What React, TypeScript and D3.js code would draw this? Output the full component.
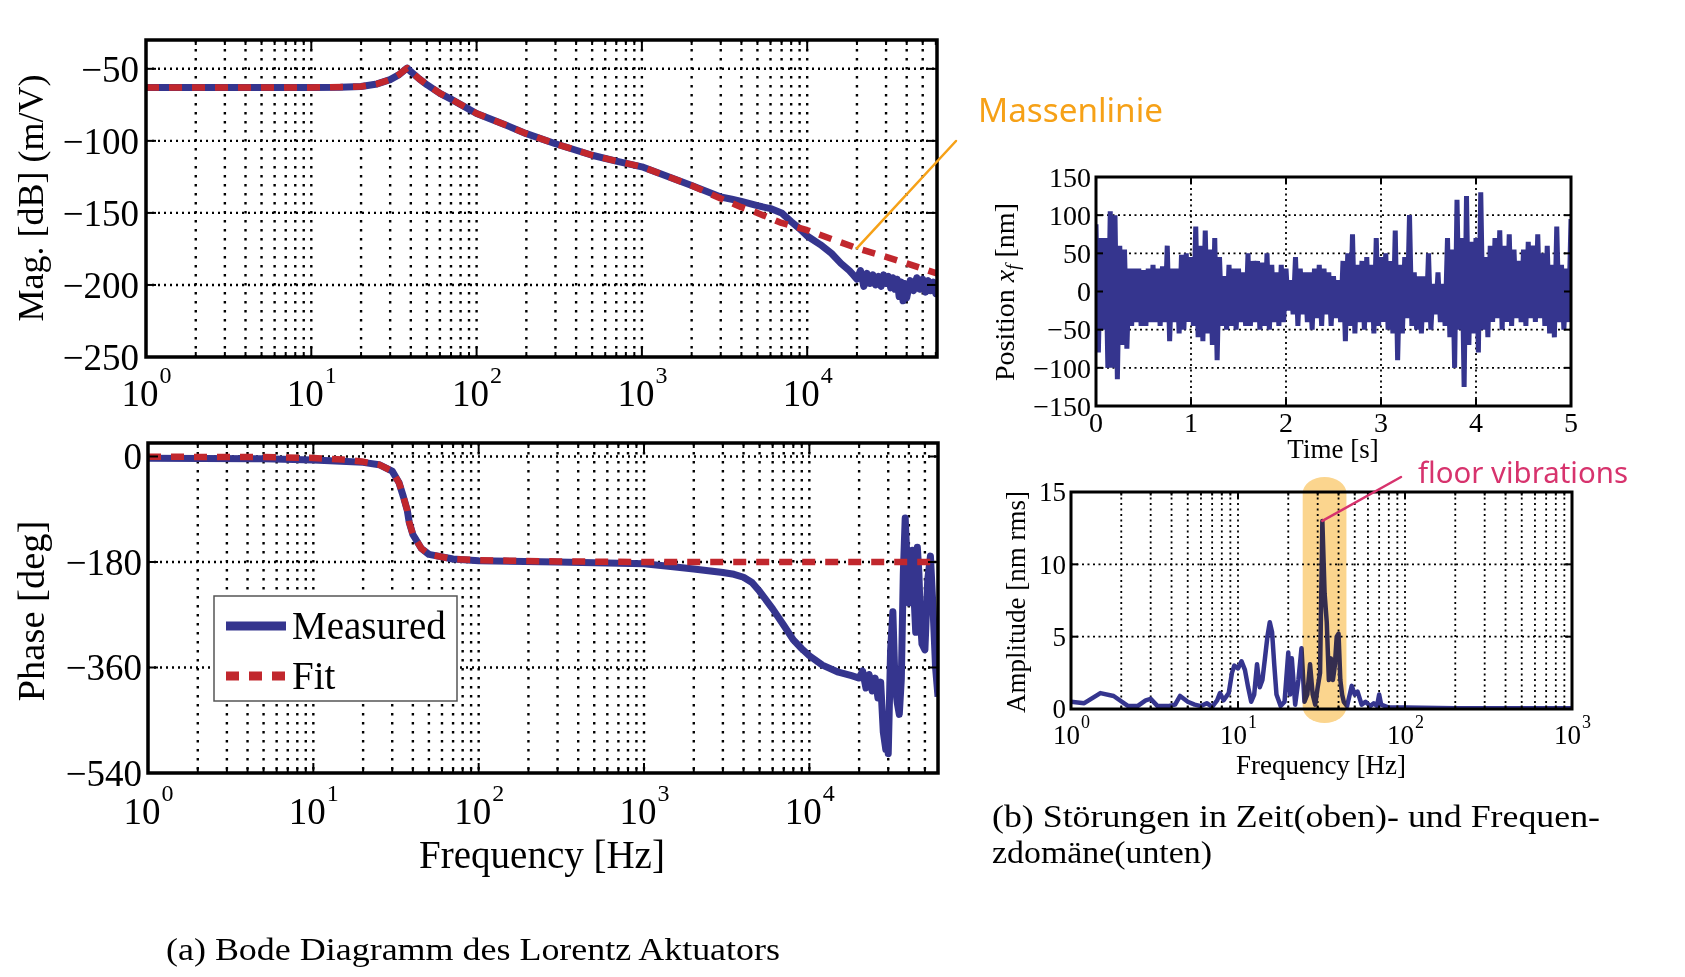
import React from 'react';
import * as d3 from 'd3';

// ---- Bode magnitude (dB) ----
const magFreq = [1, 5, 10, 15, 20, 25, 30, 34, 37, 38, 40, 45, 50, 60, 70, 100, 150, 200, 300, 500,
  700, 1000, 2000, 3000, 3500, 4000, 4500, 5000, 6000, 7000, 8000, 9000, 10000, 12000, 14000, 16000, 18000, 19000, 20000, 21000,
  22000, 23000, 24000, 25000, 26000, 27000, 28000, 29000, 30000, 31000, 32000, 33000, 34000, 35000, 36000, 37000, 38000, 39000, 40000,
  42000, 44000, 46000, 48000, 50000, 52000, 54000, 56000, 58000, 60000, 61000];
const magMeasured = [-63, -63, -63, -62.8, -62.3, -60.5, -57.5, -54, -50.5, -49.5, -52, -57, -61, -67, -71, -81, -89, -95, -102, -110,
  -114, -118, -131, -139, -140.5, -142, -143.5, -145, -147, -150, -156, -161, -166, -172, -178, -185, -190, -193, -196, -190,
  -201, -192, -199, -193, -200, -194, -201, -193, -199, -194, -202, -195, -203, -196, -208, -198, -211, -199, -209,
  -197, -204, -195, -203, -196, -205, -197, -204, -198, -206, -200];
const magFitFreq = [1, 10, 20, 25, 30, 34, 37, 38, 40, 45, 50, 60, 70, 100, 150, 200, 300, 500, 700, 1000,
  2000, 3000, 4000, 5000, 7000, 10000, 20000, 30000, 40000, 61000];
const magFit = [-63, -63, -62.3, -60.5, -57.5, -54, -50.5, -49.5, -52, -57, -61, -67, -71, -81, -89, -95, -102, -110, -114, -118,
  -131, -140, -146, -150, -157, -162, -174.5, -180.5, -185, -192];

// ---- Bode phase (deg) ----
const phFreq = [1, 5, 10, 20, 25, 30, 33, 35, 37, 38, 40, 45, 50, 70, 100, 300, 1000, 1500, 2000, 3000, 3500,
  4000, 4500, 5000, 6000, 7000, 8000, 9000, 10000, 12000, 15000, 18000, 20000, 21000, 22000, 23000, 24000, 25000, 26000, 27000, 28000,
  29000, 29500, 30000, 30500, 31000, 32000, 33000, 34000, 35000, 36000, 37000, 38000, 39000, 40000, 41000, 42000, 43000, 44000, 45000, 46000,
  47000, 48000, 50000, 52000, 54000, 56000, 58000, 60000];
const phMeasured = [-3, -4, -6, -10, -14, -25, -45, -68, -92, -112, -133, -157, -167, -175, -178, -180, -183, -188, -192, -198, -201,
  -206, -215, -230, -260, -288, -313, -328, -340, -356, -368, -374, -378, -366, -395, -372, -400, -378, -412, -385, -470,
  -500, -465, -507, -420, -330, -265, -390, -420, -440, -380, -200, -105, -180, -250, -200, -160, -240, -300, -155, -200,
  -280, -320, -330, -210, -170, -260, -360, -410];
const phFitFreq = [1, 5, 10, 15, 20, 25, 30, 33, 35, 37, 38, 40, 45, 50, 70, 100, 300, 1000, 60000];
const phFit = [-0.5, -1, -2.5, -5, -9, -14, -25, -45, -68, -92, -112, -133, -157, -167, -175, -177, -179, -180, -180];

// ---- position x_f (nm), sampled every 0.05 s: upper and lower excursions ----
const posTime = d3.range(0, 5.0001, 0.05);
const posUpper = [88, 70, 70, 105, 100, 60, 55, 30, 30, 30, 28, 30, 35, 30, 33, 60, 30, 30, 48, 50,
  45, 85, 60, 80, 55, 70, 45, 20, 35, 30, 30, 25, 50, 40, 40, 38, 50, 35, 25, 35,
  30, 15, 45, 30, 25, 25, 30, 35, 30, 25, 20, 15, 40, 50, 75, 35, 40, 45, 35, 70,
  45, 50, 40, 80, 35, 45, 100, 25, 20, 20, 50, 10, 25, 10, 70, 55, 120, 70, 125, 65,
  70, 130, 45, 60, 70, 80, 60, 75, 55, 40, 55, 65, 60, 75, 50, 60, 35, 85, 35, 30, 95];
const posLower = [-80, -50, -100, -100, -115, -70, -75, -45, -40, -45, -45, -40, -40, -45, -40, -65, -40, -55, -50, -40,
  -45, -60, -65, -55, -70, -90, -45, -50, -45, -50, -40, -45, -45, -40, -50, -45, -50, -40, -45, -40,
  -25, -30, -45, -30, -40, -50, -35, -45, -30, -45, -35, -40, -65, -45, -55, -40, -50, -40, -55, -45,
  -40, -50, -55, -90, -55, -35, -45, -50, -55, -40, -50, -30, -40, -45, -60, -100, -50, -125, -70, -55,
  -80, -50, -60, -40, -35, -50, -40, -45, -35, -40, -45, -35, -40, -35, -45, -55, -60, -40, -50, -40];

// ---- amplitude spectrum (nm rms) ----
const specFreq = [1, 1.2, 1.5, 1.8, 2.2, 2.5, 2.8, 3.0, 3.3, 3.8, 4.2, 4.5, 5.0, 5.5, 6.0, 6.5, 7.0, 7.5, 7.8, 8.2,
  8.8, 9.2, 9.5, 10, 10.5, 11, 11.5, 12, 12.5, 13, 13.5, 14, 14.5, 15, 15.5, 16, 16.5, 17, 18, 19,
  20, 20.5, 21, 22, 23, 24, 25, 26, 27, 28, 29, 30, 31, 32, 33, 34, 35, 36, 37, 38,
  39, 40, 41, 42, 43, 45, 48, 50, 52, 55, 58, 62, 65, 68, 70, 72, 80, 100, 200, 500, 1000];
const specAmp = [0.5, 0.4, 1.1, 0.9, 0.2, 0.2, 0.6, 0.7, 0.2, 0.2, 0.3, 0.9, 0.5, 0.3, 0.2, 0.4, 0.15, 0.6, 1.1, 0.6,
  1.1, 2.5, 3.0, 2.8, 3.3, 2.7, 1.5, 0.5, 1.0, 3.1, 1.5, 2.0, 3.5, 5.0, 6.0, 5.3, 3.0, 1.0, 0.2, 0.5,
  3.9, 1.0, 3.5, 0.3, 2.0, 4.2, 0.5, 1.0, 3.1, 1.0, 0.3, 1.5, 2.5, 13.0, 8.0, 6.0, 2.0, 3.5, 2.0, 3.0,
  5.0, 5.2, 2.0, 1.0, 0.5, 0.2, 1.6, 1.0, 1.2, 0.3, 0.5, 0.2, 0.4, 0.2, 1.0, 0.3, 0.1, 0.1, 0.05, 0.05, 0.05];

// tick values
const magTicks = [-250, -200, -150, -100, -50];
const phTicks = [-540, -360, -180, 0];
const posTicks = [-150, -100, -50, 0, 50, 100, 150];
const timeTicks = [0, 1, 2, 3, 4, 5];
const ampTicks = [0, 5, 10, 15];

// annotations
const massTarget = { f: 20000, db: -174.5 };
const floorPeak = { f: 32, amp: 13 };
const floorBand = [24.4, 44.6];

const BLUE = '#35358e';
const RED = '#c1272d';
const SERIF = '"Liberation Serif", "Times New Roman", serif';
const HAND = '"Noto Sans", sans-serif';

type Box = { l: number; r: number; t: number; b: number };

const fmt = (v: number) => (v < 0 ? '\u2212' + Math.abs(v) : String(v));

function gridLines(box: Box, vx: number[], hy: number[], vDash: string, hDash: string, w: number) {
  const inside = (p: number, a: number, b: number) => p > Math.min(a, b) + 2 && p < Math.max(a, b) - 2;
  return (
    <g stroke="#000" strokeWidth={w} fill="none">
      {vx.filter(x => inside(x, box.l, box.r)).map((x, i) => (
        <line key={'v' + i} x1={x} x2={x} y1={box.t} y2={box.b} strokeDasharray={vDash} />
      ))}
      {hy.filter(y => inside(y, box.t, box.b)).map((y, i) => (
        <line key={'h' + i} x1={box.l} x2={box.r} y1={y} y2={y} strokeDasharray={hDash} />
      ))}
    </g>
  );
}

function frameTicks(box: Box, xMaj: number[], xMin: number[], yMaj: number[], len: number, sw: number) {
  const segs: [number, number, number, number][] = [];
  xMaj.forEach(x => { segs.push([x, box.b, x, box.b - len]); segs.push([x, box.t, x, box.t + len]); });
  xMin.forEach(x => { segs.push([x, box.b, x, box.b - len / 2]); segs.push([x, box.t, x, box.t + len / 2]); });
  yMaj.forEach(y => { segs.push([box.l, y, box.l + len, y]); segs.push([box.r, y, box.r - len, y]); });
  return (
    <g stroke="#000" fill="none">
      {segs.map((s, i) => <line key={i} x1={s[0]} y1={s[1]} x2={s[2]} y2={s[3]} strokeWidth={2} />)}
      <rect x={box.l} y={box.t} width={box.r - box.l} height={box.b - box.t} strokeWidth={sw} />
    </g>
  );
}

function powLabel(key: string, x: number, y: number, exp: number, fs: number, sfs: number, rise: number) {
  const total = fs + 0.5 * sfs;
  const x0 = x - total / 2;
  return (
    <g key={key}>
      <text x={x0} y={y} fontSize={fs}>10</text>
      <text x={x0 + fs + 1} y={y - rise} fontSize={sfs}>{exp}</text>
    </g>
  );
}

function logTickSplit(scale: d3.ScaleLogarithmic<number, number>) {
  const all = scale.ticks();
  const major = all.filter(v => Math.abs(Math.log10(v) - Math.round(Math.log10(v))) < 1e-9);
  const minor = all.filter(v => !major.includes(v));
  return { major, minor };
}

export default function App() {
  const magBox: Box = { l: 146, r: 937, t: 40, b: 357 };
  const phBox: Box = { l: 148, r: 938, t: 443, b: 773 };
  const tBox: Box = { l: 1096, r: 1571, t: 177, b: 406 };
  const sBox: Box = { l: 1071, r: 1572, t: 492, b: 709 };

  const xMag = d3.scaleLog().domain([1, 6.1e4]).range([magBox.l, magBox.r]);
  const yMag = d3.scaleLinear().domain([-250, -30]).range([magBox.b, magBox.t]);
  const xPh = d3.scaleLog().domain([1, 6e4]).range([phBox.l, phBox.r]);
  const yPh = d3.scaleLinear().domain([-540, 23]).range([phBox.b, phBox.t]);
  const xT = d3.scaleLinear().domain([0, 5]).range([tBox.l, tBox.r]);
  const yT = d3.scaleLinear().domain([-150, 150]).range([tBox.b, tBox.t]);
  const xS = d3.scaleLog().domain([1, 1000]).range([sBox.l, sBox.r]);
  const yS = d3.scaleLinear().domain([0, 15]).range([sBox.b, sBox.t]);

  const line = d3.line<[number, number]>();

  const magMeasPath = line(magFreq.map((f, i) => [xMag(f), yMag(magMeasured[i])]));
  const magFitPath = line(magFitFreq.map((f, i) => [xMag(f), yMag(magFit[i])]));
  const phMeasPath = line(phFreq.map((f, i) => [xPh(f), yPh(phMeasured[i])]));
  const phFitPath = line(phFitFreq.map((f, i) => [xPh(f), yPh(phFit[i])]));

  const posPts: [number, number][] = [];
  posTime.forEach((t, i) => {
    posPts.push([xT(t), yT(posUpper[i])]);
    if (i < posLower.length) posPts.push([xT(t + 0.025), yT(posLower[i])]);
  });
  const posPath = line(posPts);
  const specPath = line(specFreq.map((f, i) => [xS(f), yS(specAmp[i])]));

  const magX = logTickSplit(xMag);
  const phX = logTickSplit(xPh);
  const spX = logTickSplit(xS);

  const bandX0 = xS(floorBand[0]);
  const bandX1 = xS(floorBand[1]);

  return (
    <svg width={1685} height={977} style={{ position: 'absolute', left: 0, top: 0, background: '#fff' }}
      fontFamily={SERIF} fill="#000">
      <defs>
        <clipPath id="cMag"><rect x={magBox.l} y={magBox.t} width={magBox.r - magBox.l} height={magBox.b - magBox.t} /></clipPath>
        <clipPath id="cPh"><rect x={phBox.l} y={phBox.t} width={phBox.r - phBox.l} height={phBox.b - phBox.t} /></clipPath>
        <clipPath id="cT"><rect x={tBox.l} y={tBox.t} width={tBox.r - tBox.l} height={tBox.b - tBox.t} /></clipPath>
        <clipPath id="cS"><rect x={sBox.l} y={sBox.t} width={sBox.r - sBox.l} height={sBox.b - sBox.t} /></clipPath>
      </defs>
      <rect x={0} y={0} width={1685} height={977} fill="#fff" />

      {/* Magnitude */}
      {gridLines(magBox, [...magX.major, ...magX.minor].map(v => xMag(v)), magTicks.map(v => yMag(v)), '2.5,6.5', '2,4', 2.4)}
      <g clipPath="url(#cMag)" fill="none" strokeLinejoin="round">
        <path d={magMeasPath || ''} stroke={BLUE} strokeWidth={7} />
        <path d={magFitPath || ''} stroke={RED} strokeWidth={6.5} strokeDasharray="13,10" />
      </g>
      {frameTicks(magBox, magX.major.map(v => xMag(v)), magX.minor.map(v => xMag(v)), magTicks.map(v => yMag(v)), 10, 3.5)}
      <g fontSize={37} textAnchor="end">
        {magTicks.map(v => <text key={v} x={magBox.l - 7} y={yMag(v)} dy="0.35em">{fmt(v)}</text>)}
      </g>
      {magX.major.map(v => powLabel('m' + v, xMag(v), 406, Math.round(Math.log10(v)), 37, 24, 23))}
      <text transform="translate(43,198) rotate(-90)" textAnchor="middle" fontSize={36}>Mag. [dB] (m/V)</text>

      {/* Phase */}
      {gridLines(phBox, [...phX.major, ...phX.minor].map(v => xPh(v)), phTicks.map(v => yPh(v)), '2.5,6.5', '2,4', 2.4)}
      <g clipPath="url(#cPh)" fill="none" strokeLinejoin="round">
        <path d={phMeasPath || ''} stroke={BLUE} strokeWidth={7} />
        <path d={phFitPath || ''} stroke={RED} strokeWidth={6.5} strokeDasharray="13,10" />
      </g>
      {frameTicks(phBox, phX.major.map(v => xPh(v)), phX.minor.map(v => xPh(v)), phTicks.map(v => yPh(v)), 10, 3.5)}
      <g fontSize={37} textAnchor="end">
        {phTicks.map(v => <text key={v} x={phBox.l - 6} y={yPh(v)} dy="0.35em">{fmt(v)}</text>)}
      </g>
      {phX.major.map(v => powLabel('p' + v, xPh(v), 824, Math.round(Math.log10(v)), 37, 24, 23))}
      <text transform="translate(44,611) rotate(-90)" textAnchor="middle" fontSize={38.5}>Phase [deg]</text>
      <text x={542} y={868} textAnchor="middle" fontSize={39}>Frequency [Hz]</text>

      {/* Legend */}
      <rect x={214} y={596} width={243} height={105} fill="#fff" stroke="#555" strokeWidth={1.5} />
      <line x1={226} x2={286} y1={626} y2={626} stroke={BLUE} strokeWidth={9} />
      <text x={292} y={639} fontSize={39}>Measured</text>
      <line x1={226} x2={286} y1={676} y2={676} stroke={RED} strokeWidth={9} strokeDasharray="13,10" />
      <text x={292} y={689} fontSize={39}>Fit</text>

      {/* Position vs time */}
      {gridLines(tBox, timeTicks.map(v => xT(v)), posTicks.map(v => yT(v)), '2,3.5', '2,3.5', 1.8)}
      <g clipPath="url(#cT)">
        <path d={posPath || ''} fill="none" stroke={BLUE} strokeWidth={5} strokeLinejoin="bevel" />
      </g>
      {frameTicks(tBox, timeTicks.map(v => xT(v)), [], posTicks.map(v => yT(v)), 7, 3)}
      <g fontSize={28} textAnchor="end">
        {posTicks.map(v => <text key={v} x={tBox.l - 5} y={yT(v)} dy="0.35em">{fmt(v)}</text>)}
      </g>
      <g fontSize={28} textAnchor="middle">
        {timeTicks.map(v => <text key={v} x={xT(v)} y={432}>{v}</text>)}
      </g>
      <text x={1333} y={458} textAnchor="middle" fontSize={27}>Time [s]</text>
      <text transform="translate(1014,292) rotate(-90)" textAnchor="middle" fontSize={28}>
        Position <tspan fontStyle="italic">x</tspan>
        <tspan fontStyle="italic" fontSize={19} dy={5}>f</tspan>
        <tspan dy={-5}> [nm]</tspan>
      </text>

      {/* Spectrum */}
      {gridLines(sBox, [...spX.major, ...spX.minor].map(v => xS(v)), ampTicks.map(v => yS(v)), '2,3.5', '2,3.5', 1.8)}
      <g clipPath="url(#cS)">
        <path d={specPath || ''} fill="none" stroke={BLUE} strokeWidth={4.5} strokeLinejoin="round" />
      </g>
      {frameTicks(sBox, spX.major.map(v => xS(v)), spX.minor.map(v => xS(v)), ampTicks.map(v => yS(v)), 7, 3)}
      <g fontSize={27} textAnchor="end">
        {ampTicks.map(v => <text key={v} x={sBox.l - 5} y={yS(v)} dy="0.35em">{v}</text>)}
      </g>
      {spX.major.map(v => powLabel('s' + v, xS(v), 744, Math.round(Math.log10(v)), 27, 18, 16))}
      <text x={1321} y={774} textAnchor="middle" fontSize={27}>Frequency [Hz]</text>
      <text transform="translate(1025,602) rotate(-90)" textAnchor="middle" fontSize={27}>Amplitude [nm rms]</text>

      {/* highlight + annotations */}
      <rect x={bandX0} y={sBox.t - 15} width={bandX1 - bandX0} height={sBox.b - sBox.t + 29}
        rx={(bandX1 - bandX0) / 2} ry={16} fill="#fbd58e" style={{ mixBlendMode: 'multiply' }} />
      <line x1={1401} y1={477} x2={xS(floorPeak.f)} y2={yS(floorPeak.amp)} stroke="#d7336d" strokeWidth={2.5} strokeLinecap="round" />
      <text x={1418} y={483} fontFamily={HAND} fontSize={29} fill="#d7336d" textLength={210} lengthAdjust="spacingAndGlyphs">floor vibrations</text>

      <line x1={956} y1={141} x2={xMag(massTarget.f)} y2={yMag(massTarget.db)} stroke="#f6a117" strokeWidth={2.5} strokeLinecap="round" />
      <text x={978} y={122} fontFamily={HAND} fontSize={33} fill="#f6a117" textLength={185} lengthAdjust="spacingAndGlyphs">Massenlinie</text>

      {/* captions */}
      <text x={166} y={960} fontSize={31} textLength={614} lengthAdjust="spacingAndGlyphs">(a) Bode Diagramm des Lorentz Aktuators</text>
      <text x={992} y={827} fontSize={31} textLength={608} lengthAdjust="spacingAndGlyphs">(b) Störungen in Zeit(oben)- und Frequen-</text>
      <text x={992} y={863} fontSize={31} textLength={220} lengthAdjust="spacingAndGlyphs">zdomäne(unten)</text>
    </svg>
  );
}
